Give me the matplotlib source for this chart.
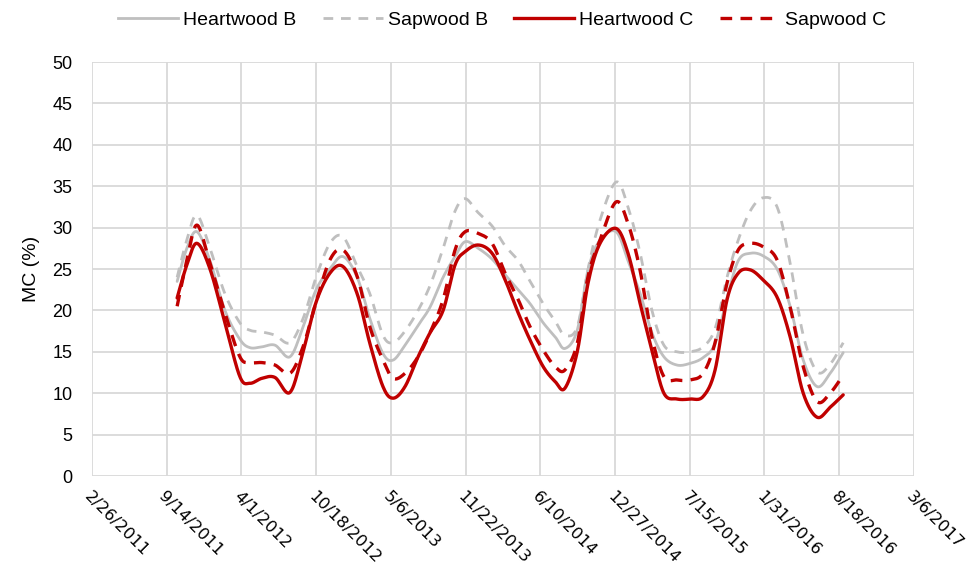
import numpy as np
import pandas as pd
import matplotlib
matplotlib.use("Agg")
import matplotlib.pyplot as plt
import matplotlib.dates as mdates
from matplotlib.lines import Line2D
from matplotlib.ticker import FuncFormatter, MultipleLocator

plt.rcParams['font.family'] = ['Liberation Sans', 'DejaVu Sans']

# sampling dates (about monthly)
dates = ['2011-10-12', '2011-11-07', '2011-12-04', '2012-01-08', '2012-02-17',
         '2012-03-28', '2012-04-24', '2012-05-26', '2012-06-30', '2012-08-09',
         '2012-09-13', '2012-10-18', '2012-11-24', '2012-12-29', '2013-02-05',
         '2013-03-11', '2013-04-15', '2013-05-12', '2013-06-13', '2013-07-18',
         '2013-08-19', '2013-09-23', '2013-10-25', '2013-11-21', '2013-12-26',
         '2014-02-01', '2014-03-08', '2014-04-12', '2014-05-14', '2014-06-18',
         '2014-07-20', '2014-08-15', '2014-09-17', '2014-10-16', '2014-11-17',
         '2014-12-30', '2015-01-31', '2015-03-04', '2015-04-05', '2015-05-07',
         '2015-06-11', '2015-07-16', '2015-08-20', '2015-09-21', '2015-10-23',
         '2015-11-22', '2015-12-24', '2016-01-27', '2016-03-05', '2016-04-09',
         '2016-05-14', '2016-06-20', '2016-07-25', '2016-08-29']

heartwood_b = [23.5, 27.5, 29.5, 26.0, 20.0, 16.5, 15.5, 15.6, 15.8, 14.4,
               18.0, 22.5, 25.0, 26.5, 24.0, 19.0, 14.8, 14.0, 15.8, 18.2,
               20.4, 24.0, 26.5, 28.3, 27.5, 26.2, 24.3, 22.5, 20.8, 18.5,
               16.8, 15.4, 17.6, 24.9, 28.5, 29.5, 26.0, 22.1, 17.3, 14.4,
               13.4, 13.6, 14.3, 16.0, 21.5, 26.0, 26.9, 26.6, 25.0, 20.5,
               14.0, 10.8, 12.4, 14.9]

sapwood_b = [24.0, 28.5, 31.5, 27.5, 22.0, 18.5, 17.6, 17.4, 17.0, 16.1,
             19.0, 24.0, 28.1, 28.9, 25.3, 22.0, 17.0, 16.1, 17.5, 20.0,
             23.0, 27.5, 32.0, 33.5, 31.8, 30.2, 27.8, 26.0, 23.5, 20.8,
             18.7, 17.0, 18.0, 25.0, 30.9, 35.5, 32.5, 27.0, 20.0, 15.8,
             15.0, 15.0, 15.6, 17.8, 24.0, 28.5, 32.0, 33.6, 32.5, 25.7,
             17.0, 12.6, 13.5, 16.1]

heartwood_c = [21.5, 25.5, 28.1, 25.0, 18.5, 12.0, 11.2, 11.8, 11.9, 10.1,
               15.0, 21.0, 24.5, 25.3, 22.0, 16.0, 10.8, 9.4, 10.8, 14.4,
               17.3, 20.0, 25.5, 27.1, 27.9, 26.9, 23.7, 19.7, 16.4, 13.2,
               11.4, 10.6, 15.0, 23.3, 28.1, 29.9, 26.9, 20.9, 15.2, 10.0,
               9.3, 9.3, 9.6, 12.8, 21.3, 24.5, 24.9, 23.7, 21.6, 16.8,
               10.0, 7.1, 8.3, 9.8]

sapwood_c = [20.5, 26.0, 30.3, 25.7, 19.7, 14.4, 13.7, 13.7, 13.4, 12.4,
             15.6, 21.0, 26.1, 27.3, 24.1, 18.0, 14.0, 11.8, 12.4, 14.4,
             17.3, 21.3, 27.3, 29.5, 29.3, 28.1, 24.5, 21.3, 18.0, 15.2,
             13.2, 12.8, 16.0, 24.1, 28.5, 33.1, 30.5, 24.9, 16.8, 12.0,
             11.6, 11.6, 12.4, 16.1, 23.3, 27.3, 28.1, 27.7, 26.1, 20.4,
             13.2, 9.0, 10.0, 12.2]

labels = ['Heartwood B', 'Sapwood B', 'Heartwood C', 'Sapwood C']

GRAY = '#BFBFBF'
RED = '#C00000'


def smooth(x, y, n=24):
    # Catmull-Rom curve through every point
    x = np.asarray(x, float)
    y = np.asarray(y, float)
    px = np.concatenate([[x[0]], x, [x[-1]]])
    py = np.concatenate([[y[0]], y, [y[-1]]])
    t = np.linspace(0, 1, n, endpoint=False)[:, None]
    outx, outy = [], []
    for i in range(1, len(px) - 2):
        for p, out in ((px, outx), (py, outy)):
            p0, p1, p2, p3 = p[i - 1], p[i], p[i + 1], p[i + 2]
            seg = 0.5 * (2 * p1 + (-p0 + p2) * t
                         + (2 * p0 - 5 * p1 + 4 * p2 - p3) * t ** 2
                         + (-p0 + 3 * p1 - 3 * p2 + p3) * t ** 3)
            out.append(seg.ravel())
    outx.append([x[-1]])
    outy.append([y[-1]])
    return np.concatenate(outx), np.concatenate(outy)


x = mdates.date2num(pd.to_datetime(dates))

fig = plt.figure(figsize=(9.71, 5.70), dpi=100)
ax = fig.add_axes([0.0947, 0.1649, 0.8464, 0.7263])

styles = [
    dict(color=GRAY, lw=2.0, ls='-'),
    dict(color=GRAY, lw=2.0, ls=(0, (3.5, 2.8))),
    dict(color=RED, lw=2.4, ls='-'),
    dict(color=RED, lw=2.4, ls=(0, (3.5, 2.5))),
]
series = [heartwood_b, sapwood_b, heartwood_c, sapwood_c]

for vals, st in zip(series, styles):
    sx, sy = smooth(x, vals)
    ax.plot(sx, sy, solid_capstyle='round', dash_capstyle='butt', **st)

start = mdates.date2num(pd.Timestamp('2011-02-26'))
ax.set_xlim(start, start + 2200)
ax.set_ylim(0, 50)
ax.set_xticks(start + 200 * np.arange(12))
ax.xaxis.set_major_formatter(FuncFormatter(
    lambda v, pos: (lambda d: f"{d.month}/{d.day}/{d.year}")(mdates.num2date(v))))
ax.yaxis.set_major_locator(MultipleLocator(5))

ax.grid(True, color='#D9D9D9', lw=1.3)
ax.set_axisbelow(True)
for s in ax.spines.values():
    s.set_visible(False)

ax.tick_params(axis='both', length=0, labelsize=13, colors='black')
ax.tick_params(axis='y', pad=14)
ax.tick_params(axis='x', pad=9)
for lab in ax.get_xticklabels():
    lab.set_rotation(-45)
    lab.set_ha('left')
    lab.set_va('top')
    lab.set_rotation_mode('anchor')
    lab.set_family('DejaVu Sans')
    lab.set_fontsize(11.8)

ax.set_ylabel('MC (%)', fontsize=14, labelpad=9)

handles = [Line2D([0], [0], **st) for st in styles]
fig.legend(handles, labels, loc='center', bbox_to_anchor=(0.517, 0.965), ncol=4,
           frameon=False, fontsize=14, handlelength=3.1, handletextpad=0.25,
           columnspacing=1.35)

fig.savefig('out.png', dpi=100)
